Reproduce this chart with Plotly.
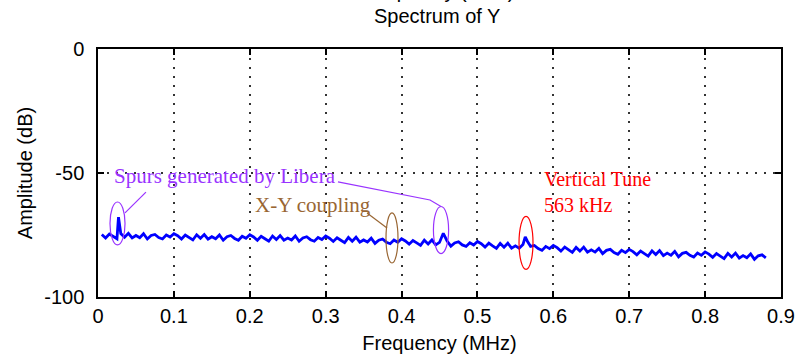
import plotly.graph_objects as go

freq_mhz = [
    0.005, 0.010, 0.015, 0.020, 0.025, 0.027, 0.030, 0.035, 0.040, 0.045,
    0.050, 0.055, 0.060, 0.065, 0.070, 0.075, 0.080, 0.085, 0.090, 0.095,
    0.100, 0.105, 0.110, 0.115, 0.120, 0.125, 0.130, 0.135, 0.140, 0.145,
    0.150, 0.155, 0.160, 0.165, 0.170, 0.175, 0.180, 0.185, 0.190, 0.195,
    0.200, 0.205, 0.210, 0.215, 0.220, 0.225, 0.230, 0.235, 0.240, 0.245,
    0.250, 0.255, 0.260, 0.265, 0.270, 0.275, 0.280, 0.285, 0.290, 0.295,
    0.300, 0.305, 0.310, 0.315, 0.320, 0.325, 0.330, 0.335, 0.340, 0.345,
    0.350, 0.355, 0.360, 0.365, 0.370, 0.375, 0.380, 0.385, 0.390, 0.395,
    0.400, 0.405, 0.410, 0.415, 0.420, 0.425, 0.430, 0.435, 0.440, 0.445,
    0.450, 0.455, 0.460, 0.465, 0.470, 0.475, 0.480, 0.485, 0.490, 0.495,
    0.500, 0.505, 0.510, 0.515, 0.520, 0.525, 0.530, 0.535, 0.540, 0.545,
    0.550, 0.555, 0.560, 0.563, 0.566, 0.570, 0.575, 0.580, 0.585, 0.590,
    0.595, 0.600, 0.605, 0.610, 0.615, 0.620, 0.625, 0.630, 0.635, 0.640,
    0.645, 0.650, 0.655, 0.660, 0.665, 0.670, 0.675, 0.680, 0.685, 0.690,
    0.695, 0.700, 0.705, 0.710, 0.715, 0.720, 0.725, 0.730, 0.735, 0.740,
    0.745, 0.750, 0.755, 0.760, 0.765, 0.770, 0.775, 0.780, 0.785, 0.790,
    0.795, 0.800, 0.805, 0.810, 0.815, 0.820, 0.825, 0.830, 0.835, 0.840,
    0.845, 0.850, 0.855, 0.860, 0.865, 0.870, 0.875, 0.880,
]

amplitude_db = [
    -74.8, -76.2, -74.6, -75.6, -76.5, -67.8, -74.4, -75.9, -74.3, -76.2,
    -75.2, -76.1, -74.5, -76.6, -75.2, -74.8, -76.0, -76.6, -75.0, -75.8,
    -74.5, -75.3, -76.6, -75.0, -76.1, -77.0, -74.9, -76.3, -74.8, -76.7,
    -75.7, -76.5, -75.0, -77.1, -75.7, -75.2, -76.4, -77.1, -75.5, -76.3,
    -74.9, -75.8, -77.1, -75.5, -76.5, -77.5, -75.4, -76.8, -75.2, -77.1,
    -76.2, -77.0, -75.4, -77.5, -76.2, -75.7, -76.9, -77.5, -76.0, -76.8,
    -75.4, -76.3, -77.6, -76.1, -77.1, -78.1, -76.0, -77.5, -75.9, -77.9,
    -77.0, -77.8, -76.3, -78.4, -77.1, -76.6, -77.9, -78.5, -77.0, -77.9,
    -76.5, -77.4, -78.7, -77.2, -78.2, -79.2, -77.1, -78.6, -77.0, -79.0,
    -78.0, -74.3, -77.4, -79.5, -78.2, -77.7, -79.0, -79.6, -78.1, -79.0,
    -77.6, -78.5, -79.9, -78.3, -79.4, -80.4, -78.4, -79.9, -78.3, -80.3,
    -79.4, -80.3, -78.8, -75.8, -77.6, -79.6, -79.2, -80.5, -81.2, -79.6,
    -80.5, -79.2, -80.1, -81.5, -79.9, -81.0, -82.0, -80.0, -81.5, -79.9,
    -81.9, -81.0, -81.9, -80.4, -82.5, -81.2, -80.8, -82.1, -82.8, -81.2,
    -82.1, -80.8, -81.7, -83.0, -81.5, -82.5, -83.5, -81.4, -82.9, -81.3,
    -83.3, -82.3, -83.2, -81.6, -83.8, -82.4, -82.0, -83.2, -83.9, -82.3,
    -83.2, -81.8, -82.7, -84.0, -82.5, -83.5, -84.5, -82.4, -83.9, -82.3,
    -84.3, -83.3, -84.2, -82.6, -84.8, -83.4, -83.0, -84.2,
]

x_ticks = [0, 0.1, 0.2, 0.3, 0.4, 0.5, 0.6, 0.7, 0.8, 0.9]
x_tick_labels = ["0", "0.1", "0.2", "0.3", "0.4", "0.5", "0.6", "0.7", "0.8", "0.9"]
y_ticks = [-100, -50, 0]
y_tick_labels = ["-100", "-50", "0"]

SANS = "Liberation Sans, Arial, sans-serif"
SERIF = "Liberation Serif, Times New Roman, serif"
PURPLE = "#9933ff"
BROWN = "#996633"
RED = "#ff0000"

fig = go.Figure()
fig.add_trace(go.Scatter(
    x=freq_mhz, y=amplitude_db, mode="lines",
    line=dict(color="#0000ff", width=2.8), showlegend=False,
))

# ellipses (data coordinates)
ellipses = [
    (0.0158, -79.0, 0.0356, -61.7, PURPLE),
    (0.4420, -82.5, 0.4620, -63.5, PURPLE),
    (0.3795, -86.3, 0.3953, -66.1, BROWN),
    (0.5548, -88.9, 0.5732, -67.5, RED),
]
for x0, y0, x1, y1, c in ellipses:
    fig.add_shape(type="circle", xref="x", yref="y", x0=x0, y0=y0, x1=x1, y1=y1,
                  line=dict(color=c, width=1.2))

# leader lines
fig.add_shape(type="line", xref="x", yref="y", x0=0.0356, y0=-66.1, x1=0.0632, y1=-57.7,
              line=dict(color=PURPLE, width=1.2))
fig.add_shape(type="path", xref="x", yref="y",
              path="M 0.3162 -53.6 L 0.4375 -60.9 L 0.4520 -63.5",
              line=dict(color=PURPLE, width=1.2))
fig.add_shape(type="line", xref="x", yref="y", x0=0.3545, y0=-66.1, x1=0.3808, y1=-72.2,
              line=dict(color=BROWN, width=1.2))

# text annotations
fig.add_annotation(x=0.0184, y=-51.2, xref="x", yref="y", text="Spurs generated by Libera",
                   showarrow=False, xanchor="left", yanchor="middle",
                   font=dict(family=SERIF, size=21, color=PURPLE))
fig.add_annotation(x=0.204, y=-63.0, xref="x", yref="y", text="X-Y coupling",
                   showarrow=False, xanchor="left", yanchor="middle",
                   font=dict(family=SERIF, size=21, color=BROWN))
fig.add_annotation(x=0.585, y=-52.4, xref="x", yref="y", text="Vertical Tune",
                   showarrow=False, xanchor="left", yanchor="middle",
                   font=dict(family=SERIF, size=20, color=RED))
fig.add_annotation(x=0.585, y=-63.0, xref="x", yref="y", text="563 kHz",
                   showarrow=False, xanchor="left", yanchor="middle",
                   font=dict(family=SERIF, size=20, color=RED))

# title and partially visible label from the plot above
fig.add_annotation(x=0.497, y=1 + 33 / 248, xref="paper", yref="paper", text="Spectrum of Y",
                   showarrow=False, xanchor="center", yanchor="middle",
                   font=dict(family=SANS, size=20, color="black"))
fig.add_annotation(x=0.497, y=1 + 58 / 248, xref="paper", yref="paper", text="Frequency (MHz)",
                   showarrow=False, xanchor="center", yanchor="middle",
                   font=dict(family=SANS, size=20, color="black"))

axis_common = dict(
    showline=True, linecolor="black", linewidth=1.5, mirror="ticks",
    ticks="inside", ticklen=6, tickcolor="black", tickwidth=1.5,
    showgrid=True, gridcolor="#333333", gridwidth=1.5, griddash="1.5px,7.5px",
    zeroline=False, automargin=False,
    tickfont=dict(family=SANS, size=20, color="black"),
)

fig.update_layout(
    width=801, height=361,
    margin=dict(l=98, r=20, t=49, b=64),
    paper_bgcolor="white", plot_bgcolor="white",
    xaxis=dict(range=[0, 0.9], tickvals=x_ticks, ticktext=x_tick_labels,
               title=dict(text="Frequency (MHz)", font=dict(family=SANS, size=20, color="black"),
                          standoff=10),
               ticklabelstandoff=0, **axis_common),
    yaxis=dict(range=[-100, 0], tickvals=y_ticks, ticktext=y_tick_labels,
               title=dict(text="Amplitude (dB)", font=dict(family=SANS, size=20, color="black"),
                          standoff=6),
               ticklabelstandoff=8, **axis_common),
)

fig.write_html(
    "out.html",
    config={"displayModeBar": False},
    post_script="document.body.style.margin='0';document.body.style.overflow='hidden';",
)
